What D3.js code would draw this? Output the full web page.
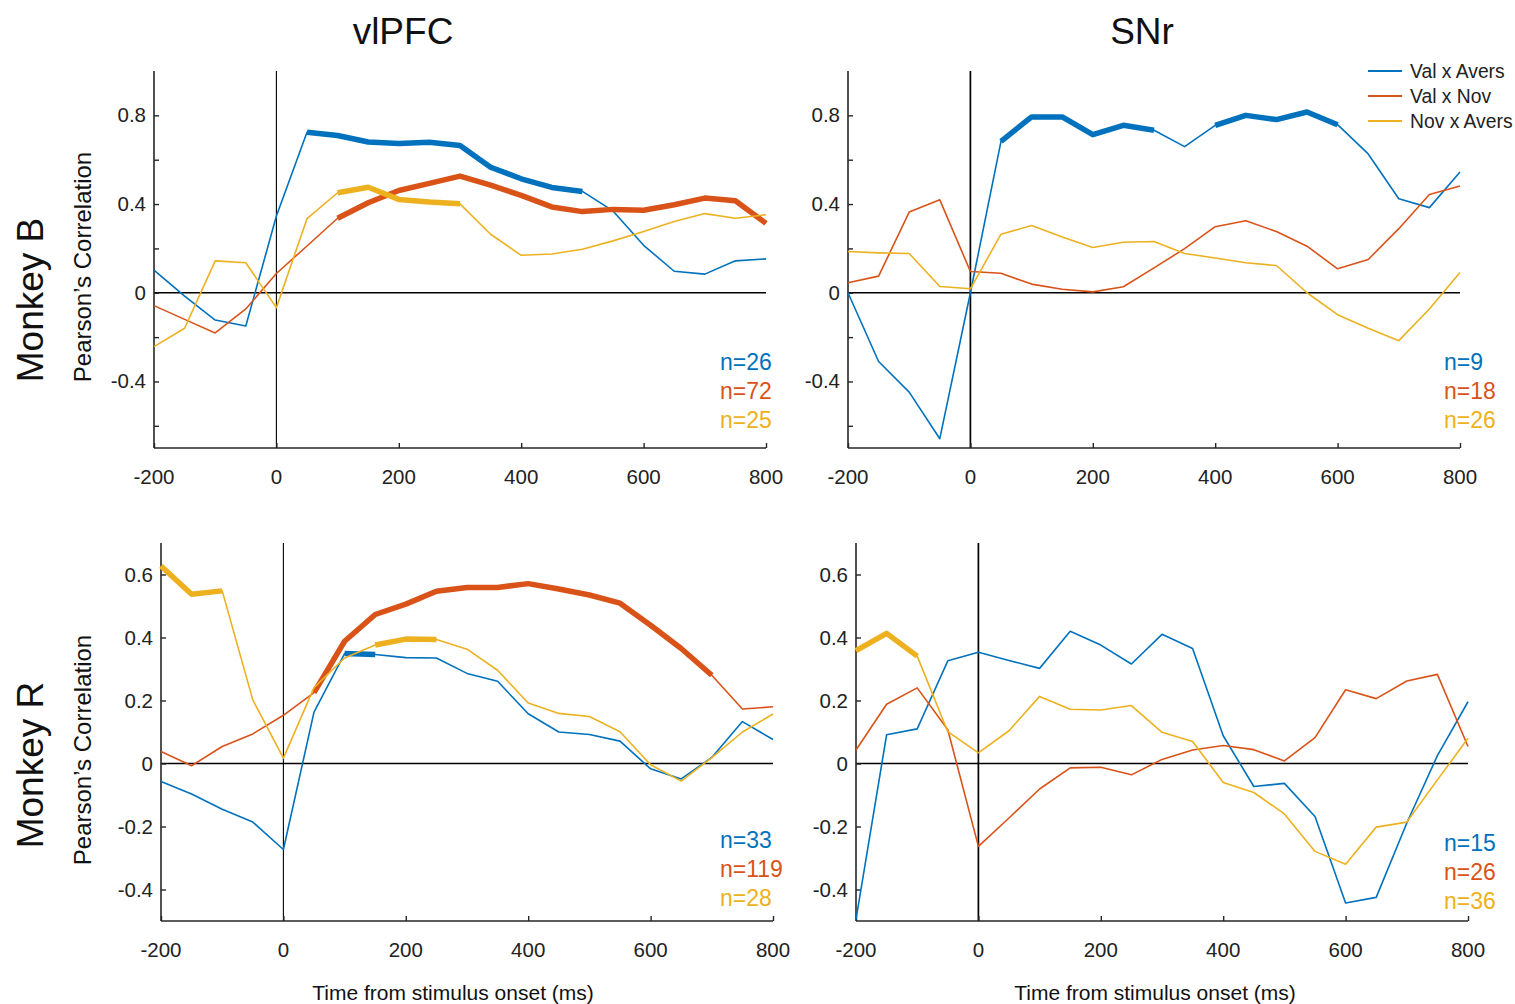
<!DOCTYPE html>
<html>
<head>
<meta charset="utf-8">
<script src="https://cdn.jsdelivr.net/npm/d3@7"></script>
<style>
  html, body { margin: 0; padding: 0; background: #fff; }
  svg { display: block; font-family: "Liberation Sans", Arial, Helvetica, sans-serif; }
</style>
</head>
<body>
<svg id="chart" width="1515" height="1004"></svg>
<script>
// Time bins (ms from stimulus onset)
const times = [-200, -150, -100, -50, 0, 50, 100, 150, 200, 250, 300, 350, 400, 450, 500, 550, 600, 650, 700, 750, 800];
const xTickValues = [-200, 0, 200, 400, 600, 800];
const seriesNames = ["Val x Avers", "Val x Nov", "Nov x Avers"];
const seriesColors = ["#0072BD", "#D95319", "#EDB120"];

// Monkey B, vlPFC
const bVlpfcValAvers = [0.102, -0.015, -0.123, -0.150, 0.346, 0.724, 0.709, 0.680, 0.673, 0.679, 0.664, 0.566, 0.514, 0.475, 0.457, 0.369, 0.214, 0.097, 0.084, 0.144, 0.153];
const bVlpfcValNov   = [-0.058, -0.120, -0.181, -0.073, 0.087, 0.211, 0.336, 0.406, 0.461, 0.493, 0.526, 0.485, 0.439, 0.387, 0.366, 0.376, 0.372, 0.397, 0.427, 0.415, 0.313];
const bVlpfcNovAvers = [-0.243, -0.160, 0.144, 0.135, -0.067, 0.334, 0.451, 0.476, 0.421, 0.409, 0.401, 0.264, 0.169, 0.175, 0.196, 0.234, 0.276, 0.321, 0.357, 0.336, 0.352];
const bVlpfcN = ["n=26", "n=72", "n=25"];
const bVlpfcSig = [[[50, 500]], [[100, 800]], [[100, 300]]];

// Monkey B, SNr
const bSnrValAvers = [0.000, -0.310, -0.448, -0.658, 0.000, 0.683, 0.793, 0.793, 0.713, 0.755, 0.733, 0.659, 0.755, 0.800, 0.781, 0.815, 0.758, 0.626, 0.424, 0.384, 0.545];
const bSnrValNov   = [0.045, 0.075, 0.364, 0.419, 0.096, 0.088, 0.039, 0.016, 0.004, 0.027, 0.112, 0.199, 0.298, 0.325, 0.276, 0.210, 0.108, 0.150, 0.289, 0.443, 0.481];
const bSnrNovAvers = [0.186, 0.180, 0.177, 0.028, 0.018, 0.264, 0.303, 0.252, 0.204, 0.228, 0.231, 0.177, 0.157, 0.135, 0.123, 0.000, -0.099, -0.160, -0.216, -0.073, 0.091];
const bSnrN = ["n=9", "n=18", "n=26"];
const bSnrSig = [[[50, 300], [400, 600]], [], []];

// Monkey R, vlPFC
const rVlpfcValAvers = [-0.057, -0.097, -0.145, -0.186, -0.273, 0.163, 0.349, 0.346, 0.336, 0.335, 0.286, 0.261, 0.158, 0.100, 0.092, 0.071, -0.017, -0.049, 0.019, 0.133, 0.076];
const rVlpfcValNov   = [0.038, -0.007, 0.054, 0.094, 0.153, 0.225, 0.388, 0.473, 0.506, 0.547, 0.559, 0.559, 0.571, 0.554, 0.535, 0.509, 0.439, 0.365, 0.280, 0.173, 0.180];
const rVlpfcNovAvers = [0.627, 0.537, 0.548, 0.202, 0.017, 0.241, 0.335, 0.376, 0.395, 0.394, 0.363, 0.296, 0.192, 0.159, 0.149, 0.101, -0.004, -0.056, 0.019, 0.100, 0.157];
const rVlpfcN = ["n=33", "n=119", "n=28"];
const rVlpfcSig = [[[100, 150]], [[50, 700]], [[-200, -100], [150, 250]]];

// Monkey R, SNr
const rSnrValAvers = [-0.495, 0.091, 0.110, 0.326, 0.353, 0.327, 0.302, 0.420, 0.376, 0.316, 0.410, 0.365, 0.088, -0.073, -0.063, -0.168, -0.443, -0.425, -0.189, 0.025, 0.196];
const rSnrValNov   = [0.043, 0.188, 0.240, 0.107, -0.263, -0.173, -0.081, -0.014, -0.012, -0.036, 0.013, 0.043, 0.057, 0.044, 0.008, 0.082, 0.234, 0.206, 0.262, 0.283, 0.054];
const rSnrNovAvers = [0.358, 0.413, 0.341, 0.101, 0.034, 0.104, 0.213, 0.172, 0.170, 0.184, 0.099, 0.070, -0.060, -0.092, -0.160, -0.279, -0.320, -0.202, -0.186, -0.052, 0.080];
const rSnrN = ["n=15", "n=26", "n=36"];
const rSnrSig = [[], [], [[-200, -100]]];

// Y-axis ticks per monkey row
const bYTicks = [-0.6, -0.4, -0.2, 0, 0.2, 0.4, 0.6, 0.8];
const bYLabelTicks = [-0.4, 0, 0.4, 0.8];
const rYTicks = [-0.4, -0.2, 0, 0.2, 0.4, 0.6];
const rYLabelTicks = [-0.4, -0.2, 0, 0.2, 0.4, 0.6];

const svg = d3.select("#chart");
const axisColor = "#262626";

const panels = [
  { x0: 154, x1: 766, yTop: 71, yBot: 448, yDom: [-0.7, 1.0], ticks: bYTicks, labelTicks: bYLabelTicks, onsetW: 1.1,
    series: [bVlpfcValAvers, bVlpfcValNov, bVlpfcNovAvers], sig: bVlpfcSig, n: bVlpfcN, nX: 720, nY: 370 },
  { x0: 848, x1: 1460, yTop: 71, yBot: 448, yDom: [-0.7, 1.0], ticks: bYTicks, labelTicks: bYLabelTicks, onsetW: 1.7,
    series: [bSnrValAvers, bSnrValNov, bSnrNovAvers], sig: bSnrSig, n: bSnrN, nX: 1444, nY: 370 },
  { x0: 161, x1: 773, yTop: 543, yBot: 921, yDom: [-0.5, 0.7], ticks: rYTicks, labelTicks: rYLabelTicks, onsetW: 1.1,
    series: [rVlpfcValAvers, rVlpfcValNov, rVlpfcNovAvers], sig: rVlpfcSig, n: rVlpfcN, nX: 720, nY: 848 },
  { x0: 856, x1: 1468, yTop: 543, yBot: 921, yDom: [-0.5, 0.7], ticks: rYTicks, labelTicks: rYLabelTicks, onsetW: 1.7,
    series: [rSnrValAvers, rSnrValNov, rSnrNovAvers], sig: rSnrSig, n: rSnrN, nX: 1444, nY: 851 }
];

const fmt = v => (Math.abs(v) < 1e-9 ? "0" : String(+v.toFixed(1)));

panels.forEach(p => {
  const x = d3.scaleLinear().domain([-200, 800]).range([p.x0, p.x1]);
  const y = d3.scaleLinear().domain(p.yDom).range([p.yBot, p.yTop]);
  const g = svg.append("g");

  // reference lines at t = 0 and r = 0
  g.append("line").attr("x1", x(0)).attr("x2", x(0)).attr("y1", p.yTop).attr("y2", p.yBot)
    .attr("stroke", "#000").attr("stroke-width", p.onsetW);
  g.append("line").attr("x1", p.x0).attr("x2", p.x1).attr("y1", y(0)).attr("y2", y(0))
    .attr("stroke", "#000").attr("stroke-width", 1.5);

  // axes (ticks point inward)
  const xAxis = d3.axisTop(x).tickValues(xTickValues).tickSize(5).tickFormat("");
  const xg = g.append("g").attr("transform", `translate(0,${p.yBot})`).call(xAxis);
  const yAxis = d3.axisRight(y).tickValues(p.ticks).tickSize(5).tickFormat("");
  const yg = g.append("g").attr("transform", `translate(${p.x0},0)`).call(yAxis);
  [xg, yg].forEach(a => {
    a.select(".domain").attr("stroke", axisColor).attr("stroke-width", 1.6);
    a.selectAll(".tick line").attr("stroke", axisColor).attr("stroke-width", 1.4);
  });
  xg.select(".domain").attr("d", `M${p.x0},0H${p.x1}`);
  yg.select(".domain").attr("d", `M0,${p.yTop}V${p.yBot}`);

  // tick labels
  g.selectAll(".xl").data(xTickValues).join("text")
    .attr("x", d => x(d)).attr("y", p.yBot + 36)
    .attr("text-anchor", "middle").attr("font-size", 20.5).attr("fill", "#222")
    .text(d => d);
  g.selectAll(".yl").data(p.labelTicks).join("text")
    .attr("x", p.x0 - 8).attr("y", d => y(d) + 7)
    .attr("text-anchor", "end").attr("font-size", 20.5).attr("fill", "#222")
    .text(fmt);

  // correlation time courses, thin line plus thick significant stretches
  const line = d3.line().x(d => x(d[0])).y(d => y(d[1]));
  p.series.forEach((vals, i) => {
    const pts = times.map((t, k) => [t, vals[k]]);
    g.append("path").attr("d", line(pts)).attr("fill", "none")
      .attr("stroke", seriesColors[i]).attr("stroke-width", 1.6).attr("stroke-linejoin", "round");
    p.sig[i].forEach(([a, b]) => {
      const seg = pts.filter(d => d[0] >= a && d[0] <= b);
      g.append("path").attr("d", line(seg)).attr("fill", "none")
        .attr("stroke", seriesColors[i]).attr("stroke-width", 5.5)
        .attr("stroke-linejoin", "round").attr("stroke-linecap", "butt");
    });
  });

  // neuron counts
  p.n.forEach((t, i) => {
    g.append("text").attr("x", p.nX).attr("y", p.nY + i * 29)
      .attr("font-size", 23).attr("fill", seriesColors[i]).text(t);
  });
});

// column titles
svg.append("text").attr("x", 403).attr("y", 44).attr("text-anchor", "middle")
  .attr("font-size", 37).attr("fill", "#111").text("vlPFC");
svg.append("text").attr("x", 1142).attr("y", 44).attr("text-anchor", "middle")
  .attr("font-size", 37).attr("fill", "#111").text("SNr");

// row titles and y-axis titles
[["Monkey B", 300, 267], ["Monkey R", 765, 750]].forEach(([name, cy, cy2]) => {
  svg.append("text").attr("transform", `translate(43,${cy}) rotate(-90)`)
    .attr("text-anchor", "middle").attr("font-size", 37).attr("fill", "#111").text(name);
  svg.append("text").attr("transform", `translate(91,${cy2}) rotate(-90)`)
    .attr("text-anchor", "middle").attr("font-size", 24).attr("fill", "#111").text("Pearson\u2019s Correlation");
});

// x-axis titles
[453, 1155].forEach(cx => {
  svg.append("text").attr("x", cx).attr("y", 1000).attr("text-anchor", "middle")
    .attr("font-size", 21).attr("fill", "#111").text("Time from stimulus onset (ms)");
});

// legend
const legend = svg.append("g");
seriesNames.forEach((name, i) => {
  const ly = 71 + i * 25;
  legend.append("line").attr("x1", 1368).attr("x2", 1402).attr("y1", ly).attr("y2", ly)
    .attr("stroke", seriesColors[i]).attr("stroke-width", 2);
  legend.append("text").attr("x", 1410).attr("y", ly + 7).attr("font-size", 19.3)
    .attr("fill", "#222").text(name);
});
</script>
</body>
</html>
